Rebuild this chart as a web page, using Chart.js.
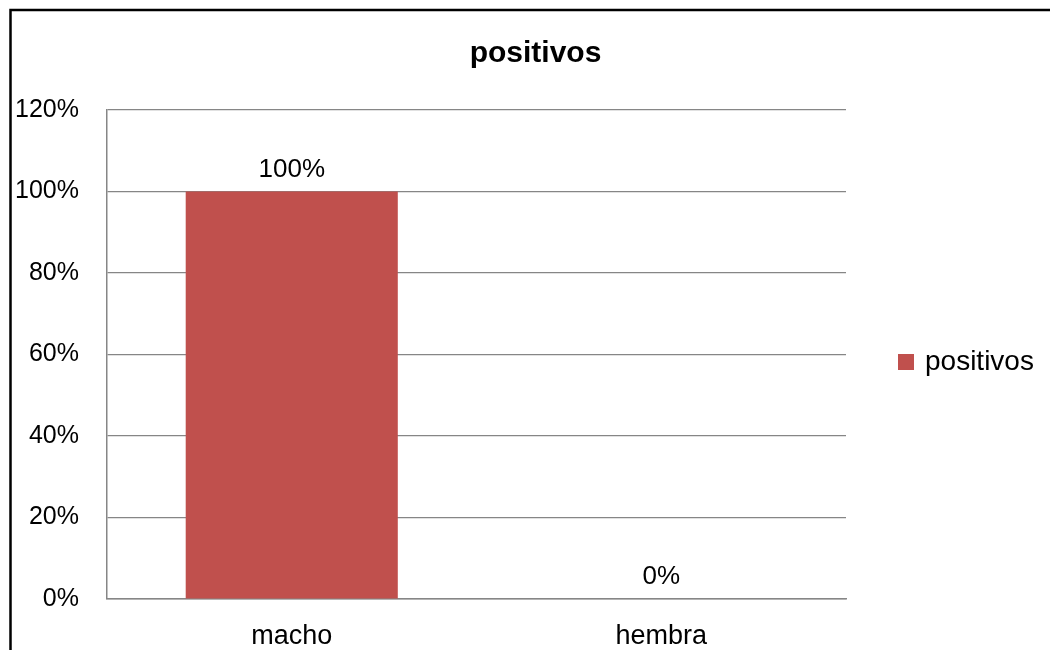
<!DOCTYPE html>
<html>
<head>
<meta charset="utf-8">
<title>positivos</title>
<script src="https://cdn.jsdelivr.net/npm/chart.js@4.4.1/dist/chart.umd.min.js"></script>
<style>
  html, body { margin: 0; padding: 0; background: #ffffff; }
  #wrap { width: 1050px; height: 650px; position: relative; }
</style>
</head>
<body>
<div id="wrap"><canvas id="chart" width="1050" height="650"></canvas></div>
<script>
// Categories and values (share of positives by sex)
const categories = ['macho', 'hembra'];
const seriesName = 'positivos';
const positivos = [1.00, 0.00];
const yTicks = [0, 0.2, 0.4, 0.6, 0.8, 1.0, 1.2];

const FONT = '"Liberation Sans", Arial, sans-serif';
const BAR_COLOR = '#C0504D';
const GRID_COLOR = '#868686';
const FRAME_X = 10.5;

const pct = v => Math.round(v * 100) + '%';

// Outer frame of the chart object; the title is centred inside the frame
const framePlugin = {
  id: 'frame',
  afterLayout(chart) {
    const tb = chart.titleBlock;
    if (tb) {
      tb.left = 21;
      tb.width = tb.right - tb.left;
    }
  },
  beforeDraw(chart) {
    const ctx = chart.ctx;
    ctx.save();
    ctx.fillStyle = '#ffffff';
    ctx.fillRect(0, 0, chart.width, chart.height);
    ctx.strokeStyle = '#000000';
    ctx.lineWidth = 2.5;
    ctx.strokeRect(FRAME_X, 10, chart.width + 40, chart.height + 40);
    ctx.restore();
  }
};

// Value labels above each bar
const valueLabels = {
  id: 'valueLabels',
  afterDatasetsDraw(chart) {
    const ctx = chart.ctx;
    ctx.save();
    ctx.font = '26px ' + FONT;
    ctx.fillStyle = '#000000';
    ctx.textAlign = 'center';
    ctx.textBaseline = 'alphabetic';
    chart.data.datasets.forEach((ds, di) => {
      const meta = chart.getDatasetMeta(di);
      meta.data.forEach((bar, i) => {
        ctx.fillText(pct(ds.data[i]), bar.x, bar.y - 15);
      });
    });
    ctx.restore();
  }
};

// Legend on the right side, vertically centred on the plot area
const sideLegend = {
  id: 'sideLegend',
  afterDraw(chart) {
    const ctx = chart.ctx;
    const area = chart.chartArea;
    const cy = (area.top + area.bottom) / 2 + 7.5;
    const x0 = area.right + 52;
    ctx.save();
    chart.data.datasets.forEach(ds => {
      ctx.fillStyle = ds.backgroundColor;
      ctx.fillRect(x0, cy - 8, 16, 16);
      ctx.fillStyle = '#000000';
      ctx.font = '28px ' + FONT;
      ctx.textAlign = 'left';
      ctx.textBaseline = 'middle';
      ctx.fillText(ds.label, x0 + 27, cy);
    });
    ctx.restore();
  }
};

new Chart(document.getElementById('chart'), {
  type: 'bar',
  data: {
    labels: categories,
    datasets: [{
      label: seriesName,
      data: positivos,
      backgroundColor: BAR_COLOR,
      borderWidth: 0,
      categoryPercentage: 1.0,
      barPercentage: 0.574,
      yAxisID: 'y'
    }]
  },
  options: {
    responsive: false,
    devicePixelRatio: 1,
    animation: false,
    layout: { padding: { top: 0, left: 0, right: 0, bottom: 0 } },
    plugins: {
      legend: { display: false },
      tooltip: { enabled: false },
      title: {
        display: true,
        text: seriesName,
        color: '#000000',
        font: { family: FONT, size: 30, weight: 'bold' },
        padding: { top: 36, bottom: 38 }
      }
    },
    scales: {
      x: {
        grid: { display: false },
        border: { display: true, color: GRID_COLOR, width: 1.5 },
        ticks: {
          color: '#000000',
          font: { family: FONT, size: 27 },
          padding: 13
        },
        afterFit(scale) { scale.height = 51; }
      },
      y: {
        min: 0,
        max: 1.2,
        afterBuildTicks(scale) { scale.ticks = yTicks.map(v => ({ value: v })); },
        grid: { color: GRID_COLOR, lineWidth: 1.2, drawTicks: false },
        border: { display: true, color: GRID_COLOR, width: 1.5 },
        ticks: {
          color: '#000000',
          font: { family: FONT, size: 25 },
          padding: 28,
          callback: v => pct(v)
        },
        afterFit(scale) { scale.width = 107; }
      },
      legendSpace: {
        type: 'linear',
        position: 'right',
        display: true,
        grid: { display: false },
        border: { display: false },
        ticks: { display: false },
        afterFit(scale) { scale.width = 204; }
      }
    }
  },
  plugins: [framePlugin, valueLabels, sideLegend]
});
</script>
</body>
</html>
